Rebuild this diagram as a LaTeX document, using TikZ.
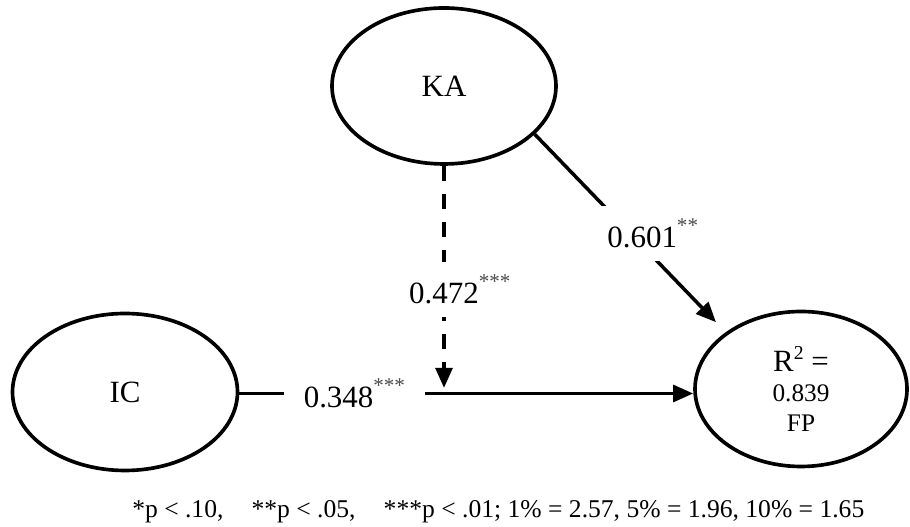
\documentclass[tikz,border=0pt]{standalone}
\usepackage{fontspec}
\setmainfont{Liberation Serif}
\usetikzlibrary{shapes.geometric,arrows.meta}
\newcommand{\sig}[1]{\raisebox{0.5em}{\fontsize{15}{15}\selectfont\color{black!70}#1}}

\begin{document}
\begin{tikzpicture}[
    latent/.style={draw, ellipse, line width=2.6pt, inner sep=0pt, font=\fontsize{22}{26}\selectfont},
    coef/.style={fill=white, inner xsep=0.5cm, inner ysep=0.32cm, font=\fontsize{22}{26}\selectfont},
    arr/.style={line width=2.5pt, -{Triangle[length=0.5cm,width=0.42cm]}}
]
\useasboundingbox (0,0) rectangle (22.75,13.175);

\node[latent, minimum width=5.6cm, minimum height=3.9cm] (KA) at (11.1,11.025) {KA};
\node[latent, minimum width=5.625cm, minimum height=3.925cm] (IC) at (3.125,3.375) {IC};
\node[latent, minimum width=5.3cm, minimum height=3.875cm, align=center,
      font=\fontsize{18}{21.3}\selectfont] (FP) at (20.025,3.45)
    {{\fontsize{22}{21.3}\selectfont R\raisebox{0.38em}{\fontsize{14}{14}\selectfont 2} =}\\0.839\\FP};

% IC -> FP
\node[coef] (l348) at (8.86,3.3375) {0.348\sig{***}};
\draw[line width=2.5pt] (IC.east |- l348) -- (l348.west);
\draw[arr] (l348.east) -- (FP.west |- l348);

% moderating path
\coordinate (join) at ([yshift=0.14cm]KA.south |- l348);
\draw[arr, dash pattern=on 0.375cm off 0.325cm] (KA.south) -- node[coef, pos=0.556] (l472) {0.472\rlap{\sig{***}}} (join);

% KA -> FP
\draw[arr, shorten >=0.35cm] (KA.-28) -- node[coef, pos=0.5, xshift=0.3cm] (l601) {0.601\rlap{\sig{**}}} (FP.143);

\node[anchor=base west, inner sep=0pt, font=\fontsize{18.2}{22}\selectfont] (note) at (3.3,0.225)
    {*p < .10,\hspace{1.1em}**p < .05,\hspace{1.1em}***p < .01; 1\% = 2.57, 5\% = 1.96, 10\% = 1.65};
\end{tikzpicture}
\end{document}
